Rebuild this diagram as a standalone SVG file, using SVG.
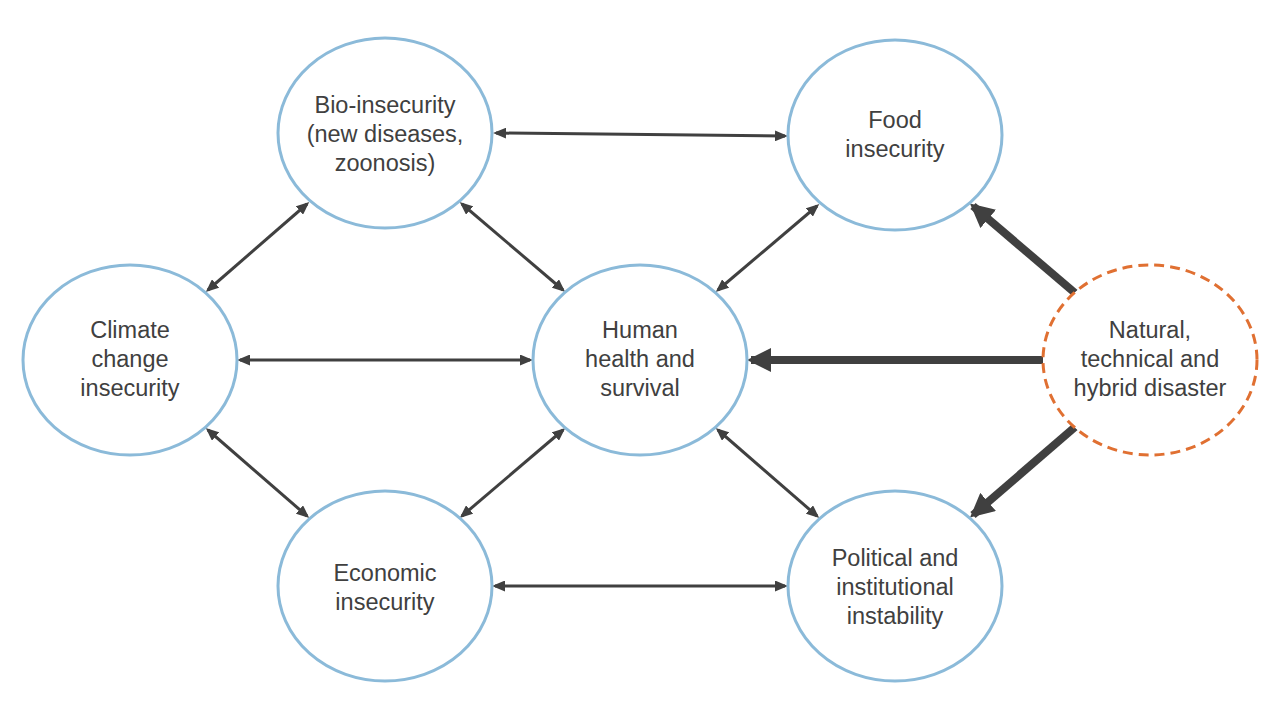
<svg xmlns="http://www.w3.org/2000/svg" width="1280" height="720" viewBox="0 0 1280 720">
<style>
.node{fill:#ffffff;stroke:#8BBAD9;stroke-width:3}
.dis{fill:#ffffff;stroke:#E07032;stroke-width:3;stroke-dasharray:10 6}
.lbl{font-family:"Liberation Sans",Arial,sans-serif;font-size:23.5px;fill:#404040;text-anchor:middle}
.thin{stroke:#404040;stroke-width:3;fill:none;marker-start:url(#ah);marker-end:url(#ah)}
.thick{stroke:#404040;stroke-width:8;fill:none;marker-end:url(#bh)}
</style>
<defs>
<marker id="ah" markerUnits="userSpaceOnUse" markerWidth="13" markerHeight="11" refX="10" refY="5.5" orient="auto-start-reverse" viewBox="0 0 13 11"><path d="M0,0 L13,5.5 L0,11 z" fill="#404040"/></marker>
<marker id="bh" markerUnits="userSpaceOnUse" markerWidth="24" markerHeight="24" refX="20" refY="12" orient="auto" viewBox="0 0 24 24"><path d="M0,0 L24,12 L0,24 z" fill="#404040"/></marker>
</defs>
<rect width="1280" height="720" fill="#ffffff"/>
<g id="connectors">
<line class="thin" x1="496" y1="133" x2="785" y2="136"/>
<line class="thin" x1="307" y1="204" x2="208" y2="290"/>
<line class="thin" x1="462" y1="204" x2="563" y2="290"/>
<line class="thin" x1="817" y1="206" x2="718" y2="290"/>
<line class="thin" x1="240" y1="360" x2="530" y2="360"/>
<line class="thin" x1="208" y1="430" x2="307" y2="516"/>
<line class="thin" x1="462" y1="516" x2="563" y2="430"/>
<line class="thin" x1="718" y1="430" x2="817" y2="516"/>
<line class="thin" x1="495" y1="586" x2="785" y2="586"/>
<line class="thick" x1="1075" y1="293" x2="973" y2="206"/>
<line class="thick" x1="1043" y1="360" x2="751" y2="360"/>
<line class="thick" x1="1075" y1="427" x2="973" y2="515"/>
</g>
<g id="bio"><ellipse class="node" cx="385" cy="133" rx="107" ry="95"/>
<text class="lbl" x="385" y="113">Bio-insecurity</text><text class="lbl" x="385" y="142">(new diseases,</text><text class="lbl" x="385" y="171">zoonosis)</text></g>
<g id="food"><ellipse class="node" cx="895" cy="135" rx="107" ry="95"/>
<text class="lbl" x="895" y="128">Food</text><text class="lbl" x="895" y="157">insecurity</text></g>
<g id="climate"><ellipse class="node" cx="130" cy="360" rx="107" ry="95"/>
<text class="lbl" x="130" y="338">Climate</text><text class="lbl" x="130" y="367">change</text><text class="lbl" x="130" y="396">insecurity</text></g>
<g id="human"><ellipse class="node" cx="640" cy="360" rx="107" ry="95"/>
<text class="lbl" x="640" y="338">Human</text><text class="lbl" x="640" y="367">health and</text><text class="lbl" x="640" y="396">survival</text></g>
<g id="disaster"><ellipse class="dis" cx="1150" cy="360" rx="107" ry="95"/>
<text class="lbl" x="1150" y="338">Natural,</text><text class="lbl" x="1150" y="367">technical and</text><text class="lbl" x="1150" y="396">hybrid disaster</text></g>
<g id="economic"><ellipse class="node" cx="385" cy="586" rx="107" ry="95"/>
<text class="lbl" x="385" y="581">Economic</text><text class="lbl" x="385" y="610">insecurity</text></g>
<g id="political"><ellipse class="node" cx="895" cy="586" rx="107" ry="95"/>
<text class="lbl" x="895" y="566">Political and</text><text class="lbl" x="895" y="595">institutional</text><text class="lbl" x="895" y="624">instability</text></g>
</svg>
